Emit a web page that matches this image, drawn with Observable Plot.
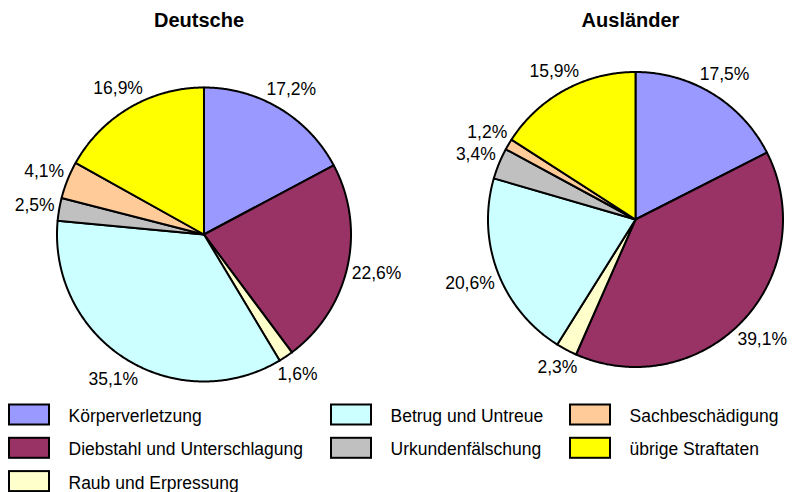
<!DOCTYPE html>
<html>
<head>
<meta charset="utf-8">
<script src="https://cdn.jsdelivr.net/npm/d3@7"></script>
<script src="https://cdn.jsdelivr.net/npm/@observablehq/plot@0.6"></script>
<style>
  html, body { margin: 0; padding: 0; background: #fff; overflow: hidden; }
  #chart svg { display: block; }
</style>
</head>
<body>
<div id="chart"></div>
<script>
// ---- data ----
const categories = [
  "Körperverletzung",
  "Diebstahl und Unterschlagung",
  "Raub und Erpressung",
  "Betrug und Untreue",
  "Urkundenfälschung",
  "Sachbeschädigung",
  "übrige Straftaten"
];
const groups = ["Deutsche", "Ausländer"];
const deutsche = [17.2, 22.6, 1.6, 35.1, 2.5, 4.1, 16.9];
const auslaender = [17.5, 39.1, 2.3, 20.6, 3.4, 1.2, 15.9];
const colors = ["#9999FF", "#993366", "#FFFFCC", "#CCFFFF", "#C0C0C0", "#FFCC99", "#FFFF00"];

// ---- layout ----
const W = 809, H = 492;
const fontFamily = "'Liberation Sans', Arial, Helvetica, sans-serif";
const labelSize = 17.5;
const pies = [
  {name: groups[0], values: deutsche, cx: 203.5, cy: 234, r: 147},
  {name: groups[1], values: auslaender, cx: 635, cy: 219, r: 147.5}
];
const legendCols = [8, 330, 569];
const legendRow0 = 414.5, legendRowStep = 33.3;

const fmt = v => v.toFixed(1).replace(".", ",") + "%";
const ctx = document.createElement("canvas").getContext("2d");
ctx.font = `${labelSize}px ${fontFamily}`;

const slices = [];
const labels = [];
for (const p of pies) {
  const total = d3.sum(p.values);
  let acc = 0;
  p.values.forEach((v, i) => {
    const a0 = acc / total * 2 * Math.PI;
    acc += v;
    const a1 = acc / total * 2 * Math.PI;
    const key = p.name + "|" + categories[i];
    const cat = categories[i];
    slices.push({key, cat, x: p.cx, y: p.cy});
    const n = Math.max(2, Math.ceil((a1 - a0) / (Math.PI / 360)));
    for (let k = 0; k <= n; k++) {
      const a = a0 + (a1 - a0) * k / n;
      slices.push({key, cat, x: p.cx + p.r * Math.sin(a), y: p.cy - p.r * Math.cos(a)});
    }
    const m = (a0 + a1) / 2;
    const text = fmt(v);
    const w = ctx.measureText(text).width;
    const h = 14;
    const d = p.r + 4 + Math.abs(Math.sin(m)) * w / 2 + Math.abs(Math.cos(m)) * h / 2;
    labels.push({text, x: p.cx + d * Math.sin(m), y: p.cy - d * Math.cos(m) + 0.6});
  });
}

// legend: column-major, 3 columns, earlier columns take the extra item
const nCols = legendCols.length;
const base = Math.floor(categories.length / nCols), extra = categories.length % nCols;
const colSizes = d3.range(nCols).map(c => base + (c < extra ? 1 : 0));
const legend = [];
{
  let i = 0;
  colSizes.forEach((size, col) => {
    for (let row = 0; row < size; row++, i++) {
      const x0 = legendCols[col];
      const yc = legendRow0 + row * legendRowStep;
      legend.push({cat: categories[i], x1: x0 + 1, x2: x0 + 41, y1: yc - 10, y2: yc + 10, tx: x0 + 60, ty: yc + 1.5});
    }
  });
}

const chart = Plot.plot({
  width: W,
  height: H,
  margin: 0,
  x: {domain: [0, W], range: [0, W], axis: null},
  y: {domain: [0, H], range: [0, H], axis: null},
  color: {domain: categories, range: colors},
  style: {fontFamily, background: "#fff", color: "#000"},
  marks: [
    Plot.line(slices, {
      x: "x", y: "y", z: "key", fill: "cat",
      stroke: "#000", strokeWidth: 2, curve: "linear-closed", strokeLinejoin: "round"
    }),
    Plot.text(labels, {
      x: "x", y: "y", text: "text", fontSize: labelSize, fill: "#000", lineAnchor: "middle"
    }),
    Plot.text(pies, {
      x: d => d.cx - 5, y: () => 19.6, text: "name",
      fontSize: 20, fontWeight: "bold", fill: "#000", lineAnchor: "middle"
    }),
    Plot.rect(legend, {
      x1: "x1", x2: "x2", y1: "y1", y2: "y2", fill: "cat", stroke: "#000", strokeWidth: 2
    }),
    Plot.text(legend, {
      x: "tx", y: "ty", text: "cat", textAnchor: "start",
      fontSize: labelSize, fill: "#000", lineAnchor: "middle"
    })
  ]
});
document.getElementById("chart").appendChild(chart);
</script>
</body>
</html>
